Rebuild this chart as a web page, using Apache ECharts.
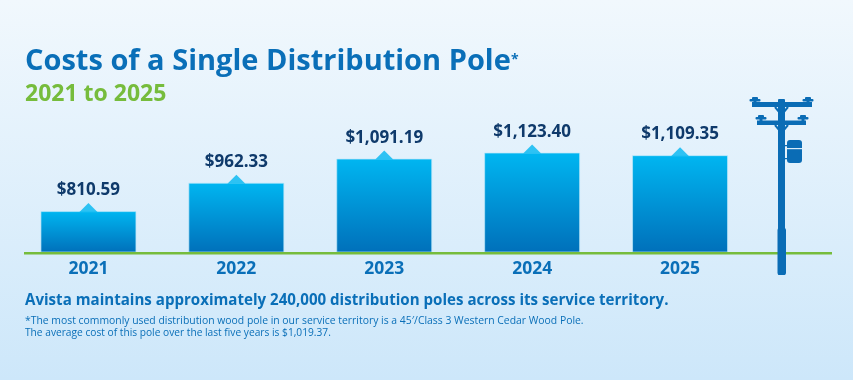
<!DOCTYPE html>
<html>
<head>
<meta charset="utf-8">
<style>
html,body{margin:0;padding:0;background:#e4f2fb;}
#main{width:853px;height:380px;}
</style>
<script src="https://cdn.jsdelivr.net/npm/echarts@6/dist/echarts.min.js"></script>
</head>
<body>
<div id="main"></div>
<script>
var years = ['2021', '2022', '2023', '2024', '2025'];
var costs = [810.59, 962.33, 1091.19, 1123.40, 1109.35];

var titleText = 'Costs of a Single Distribution Pole';
var subText = '2021 to 2025';
var noteMain = 'Avista maintains approximately 240,000 distribution poles across its service territory.';
var noteSmall1 = '*The most commonly used distribution wood pole in our service territory is a 45\u2032/Class 3 Western Cedar Wood Pole.';
var noteSmall2 = 'The average cost of this pole over the last five years is $1,019.37.';

var blue = '#0a6fb8';
var navy = '#0f3a6b';
var green = '#76bc3c';
var poleBlue = '#0a6cb5';
var font = '"Open Sans", sans-serif';

function money(v){
    return '$' + v.toFixed(2).replace(/\B(?=(\d{3})+(?!\d))/g, ',');
}

function txt(x, y, s, size, weight, color){
    return {type: 'text', x: x, y: y, silent: true, style: {text: s, fontFamily: font, fontSize: size, fontWeight: weight, fill: color, textVerticalAlign: 'middle'}};
}
function box(x, y, w, h, r, fill){
    return {type: 'rect', shape: {x: x, y: y, width: w, height: h, r: r || 0}, style: {fill: fill || poleBlue}, silent: true, z: 6};
}
function brace(y){
    return {type: 'polyline', shape: {points: [[775, y], [781.5, y + 8], [788, y]]}, style: {stroke: poleBlue, fill: 'none', lineWidth: 2}, silent: true, z: 6};
}
function insulator(x, y){
    return [box(x - 3, y, 6, 3, 1), box(x - 5.5, y + 2, 11, 2.5, 1), box(x - 1.5, y + 4, 3, 2)];
}

var chart = echarts.init(document.getElementById('main'), null, {renderer: 'canvas'});
chart.setOption({
    animation: false,
    backgroundColor: new echarts.graphic.LinearGradient(0, 0, 0, 1, [
        {offset: 0, color: '#f1f8fd'},
        {offset: 1, color: '#cde7fa'}
    ]),
    grid: {left: 14.5, width: 739.5, top: 100, height: 152},
    xAxis: {
        type: 'category',
        data: years,
        axisTick: {show: false},
        axisLine: {show: false},
        axisLabel: {color: blue, fontFamily: font, fontSize: 17.5, fontWeight: 'bold', margin: 8}
    },
    yAxis: {type: 'value', min: 592, max: 1404, show: false},
    series: [
        {
            type: 'bar',
            data: costs,
            barWidth: 96,
            itemStyle: {
                color: new echarts.graphic.LinearGradient(0, 0, 0, 1, [
                    {offset: 0, color: '#00b6f1'},
                    {offset: 1, color: '#0070ba'}
                ]),
                borderColor: 'rgba(190,232,250,0.7)',
                borderWidth: 1
            },
            label: {
                show: true,
                position: 'top',
                distance: 12,
                formatter: function(p){ return money(p.value); },
                color: navy,
                fontFamily: font,
                fontSize: 17,
                fontWeight: 'bold'
            },
            z: 2
        },
        {
            type: 'scatter',
            data: costs,
            symbol: 'triangle',
            symbolSize: [18, 9],
            symbolOffset: [0, -3.5],
            itemStyle: {color: '#00b6f1'},
            silent: true,
            z: 3
        }
    ],
    graphic: [
        txt(25, 62, titleText, 29, 'bold', blue),
        txt(511, 60, '*', 14, 'bold', blue),
        txt(25, 94, subText, 23, 'bold', green),
        txt(25, 301, noteMain, 15.1, 'bold', blue),
        txt(25, 321, noteSmall1, 10.4, 'normal', blue),
        txt(25, 333, noteSmall2, 10.2, 'normal', blue),
        // ground line
        {type: 'rect', shape: {x: 24, y: 252, width: 808, height: 2.5}, style: {fill: green}, silent: true, z: 5},
        // pole
        box(778, 99, 7, 176, 1),
        box(777.5, 228, 8.5, 47, 2),
        box(752, 102, 60, 5),
        box(757, 120.5, 49, 4.5)
    ].concat(
        insulator(755, 97), insulator(808, 97),
        insulator(761, 115), insulator(803, 115),
        [
            brace(107),
            brace(125),
            box(787, 140, 15, 23, 3),
            box(787, 148, 15, 1.2, 0, '#d8edfa'),
            box(785, 145, 2, 1.2),
            box(785, 158, 2, 1.2)
        ]
    )
});
</script>
</body>
</html>
